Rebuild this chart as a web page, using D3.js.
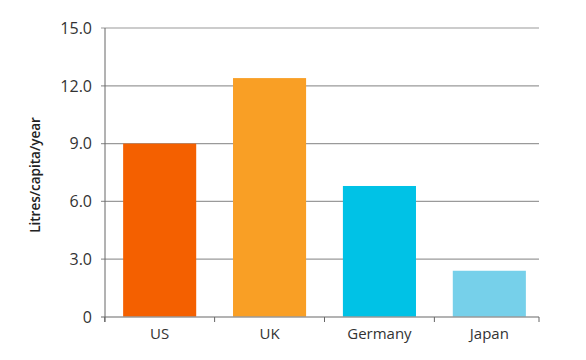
<!DOCTYPE html>
<html><head><meta charset="utf-8">
<script src="https://cdn.jsdelivr.net/npm/d3@7"></script>
<style>
html,body{margin:0;padding:0;background:#fff;}
svg{display:block;font-family:"Open Sans", Lato, sans-serif;}
</style></head>
<body><div id="chart"></div>
<script>
const categories = ["US", "UK", "Germany", "Japan"];
const values = [9.0, 12.4, 6.8, 2.4];
const colors = ["#F46000", "#F99F25", "#00C2E6", "#76D0EA"];
const yTicks = [0, 3, 6, 9, 12, 15];
const yTickLabels = ["0", "3.0", "6.0", "9.0", "12.0", "15.0"];
const yTitle = "Litres/capita/year";

const W = 586, H = 360;
const m = {left: 105, right: 42, top: 28, bottom: 43};
const gridRight = 539;
const svg = d3.select("#chart").append("svg").attr("width", W).attr("height", H);

const x = d3.scaleBand().domain(categories).range([m.left, W - m.right]).paddingInner(0.335).paddingOuter(0.165);
const y = d3.scaleLinear().domain([0, 15]).range([H - m.bottom, m.top]);

// gridlines
svg.append("g").selectAll("line").data(yTicks.filter(d => d > 0)).join("line")
  .attr("x1", m.left - 4).attr("x2", gridRight)
  .attr("y1", d => y(d)).attr("y2", d => y(d))
  .attr("stroke", "#9a9a9a").attr("stroke-width", 1.2);

// y tick labels
svg.append("g").selectAll("text").data(yTicks).join("text")
  .attr("x", m.left - 13).attr("y", d => y(d)).attr("dy", "0.36em")
  .attr("text-anchor", "end").attr("font-size", 16).attr("fill", "#333")
  .text((d, i) => yTickLabels[i]);

// bars
svg.append("g").selectAll("rect").data(values).join("rect")
  .attr("x", (d, i) => x(categories[i])).attr("width", x.bandwidth())
  .attr("y", d => y(d)).attr("height", d => y(0) - y(d))
  .attr("fill", (d, i) => colors[i]);

// x baseline
svg.append("line").attr("x1", m.left - 4).attr("x2", gridRight)
  .attr("y1", y(0)).attr("y2", y(0)).attr("stroke", "#9a9a9a").attr("stroke-width", 1.5);

// x ticks at band boundaries
const bounds = categories.map(c => x(c) - x.step() * x.paddingInner() / 2);
bounds.push(gridRight);
svg.append("g").selectAll("line").data(bounds).join("line")
  .attr("x1", d => d).attr("x2", d => d)
  .attr("y1", y(0)).attr("y2", y(0) + 5).attr("stroke", "#666").attr("stroke-width", 1);

// y axis line
svg.append("line").attr("x1", m.left).attr("x2", m.left)
  .attr("y1", m.top).attr("y2", y(0) + 5).attr("stroke", "#666").attr("stroke-width", 1);

// x labels
svg.append("g").selectAll("text").data(categories).join("text")
  .attr("x", d => x(d) + x.bandwidth() / 2).attr("y", 339)
  .attr("text-anchor", "middle").attr("font-size", 15).attr("fill", "#333")
  .text(d => d);

// y title
svg.append("text").attr("transform", "translate(40,175) rotate(-90)")
  .attr("text-anchor", "middle").attr("font-size", 13.5).attr("font-weight", 600).attr("fill", "#222")
  .text(yTitle);
</script></body></html>
